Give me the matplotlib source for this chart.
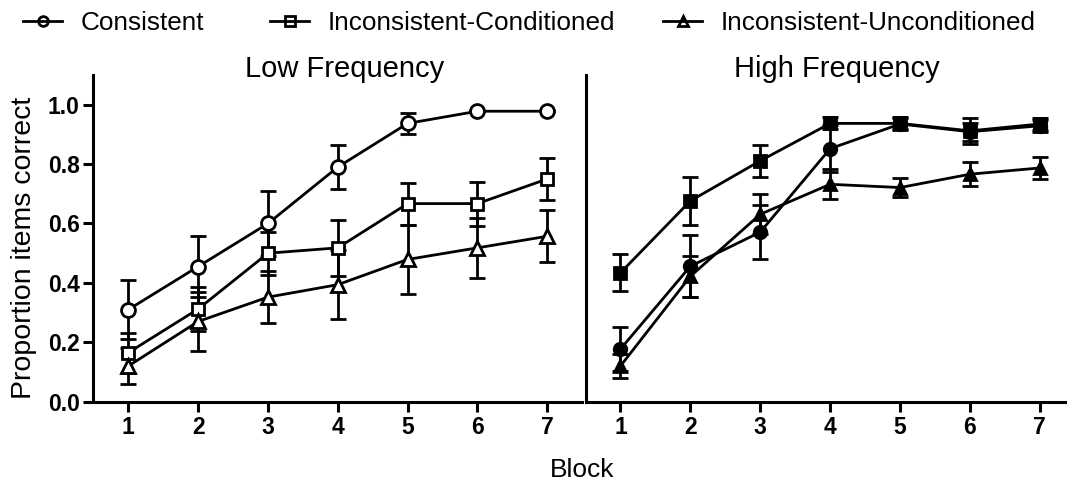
#!/usr/bin/env python3
"""
Proportion of items correct per block, low vs high frequency items,
for consistent / inconsistent-conditioned / inconsistent-unconditioned.
"""
import matplotlib
matplotlib.use('Agg')
import matplotlib.pyplot as plt
from matplotlib.lines import Line2D

plt.rcParams['font.family'] = ['Liberation Sans', 'DejaVu Sans']

# Data (mean, SEM)
blocks = [1, 2, 3, 4, 5, 6, 7]

low_cons = [0.31, 0.455, 0.60, 0.79, 0.937, 0.978, 0.978]
low_cons_err = [0.10, 0.104, 0.11, 0.075, 0.034, 0.0, 0.0]
low_cond = [0.165, 0.312, 0.50, 0.518, 0.667, 0.667, 0.75]
low_cond_err = [0.067, 0.073, 0.072, 0.095, 0.071, 0.074, 0.07]
low_unc = [0.12, 0.27, 0.352, 0.394, 0.479, 0.518, 0.557]
low_unc_err = [0.06, 0.10, 0.088, 0.116, 0.115, 0.10, 0.088]

high_cons = [0.177, 0.456, 0.571, 0.852, 0.935, 0.909, 0.929]
high_cons_err = [0.075, 0.104, 0.09, 0.08, 0.02, 0.03, 0.02]
high_cond = [0.434, 0.676, 0.811, 0.937, 0.937, 0.912, 0.935]
high_cond_err = [0.062, 0.08, 0.054, 0.02, 0.02, 0.043, 0.02]
high_unc = [0.12, 0.422, 0.631, 0.732, 0.721, 0.766, 0.787]
high_unc_err = [0.041, 0.07, 0.067, 0.05, 0.033, 0.04, 0.038]

labels = ['Consistent', 'Inconsistent-Conditioned', 'Inconsistent-Unconditioned']
markers = ['o', 's', '^']
msizes = [10, 9, 10]

fig = plt.figure(figsize=(10.67, 4.87), dpi=100)
ax1 = fig.add_axes([93.4 / 1067, 0.1752, 488.8 / 1067, 0.6708])
ax2 = fig.add_axes([585.5 / 1067, 0.1752, 489.3 / 1067, 0.6708])


def draw_series(ax, means, errs, marker, ms, filled):
    ax.errorbar(blocks, means, yerr=errs, color='black', lw=2,
                marker=marker, ms=ms, mew=2,
                mfc='black' if filled else 'white', mec='black',
                elinewidth=2, capsize=5.5, capthick=2.2, zorder=3)


low = [(low_cons, low_cons_err), (low_cond, low_cond_err), (low_unc, low_unc_err)]
high = [(high_cons, high_cons_err), (high_cond, high_cond_err), (high_unc, high_unc_err)]

for (m, e), mk, ms in zip(low, markers, msizes):
    draw_series(ax1, m, e, mk, ms, False)
for (m, e), mk, ms in zip(high, markers, msizes):
    draw_series(ax2, m, e, mk, ms - 1, True)

for ax in (ax1, ax2):
    ax.set_xlim(0.5, 7.5)
    ax.set_ylim(0, 1.1)
    ax.spines['top'].set_visible(False)
    ax.spines['right'].set_visible(False)
    ax.spines['left'].set_linewidth(2.2)
    ax.spines['bottom'].set_linewidth(2.2)
    ax.set_xticks(blocks)
    ax.tick_params(axis='both', direction='out', length=7, width=2.2,
                   labelsize=16.5, pad=3)
    for t in ax.get_xticklabels():
        t.set_fontweight('bold')

ax1.set_yticks([0.0, 0.2, 0.4, 0.6, 0.8, 1.0])
ax1.set_yticklabels(['0.0', '0.2', '0.4', '0.6', '0.8', '1.0'], fontweight='bold')
ax2.set_yticks([])

# panel titles sit with their baseline on the top of the axes
for ax, title in ((ax1, 'Low Frequency'), (ax2, 'High Frequency')):
    ax.text(0.513, 0.995, title, transform=ax.transAxes, fontsize=21,
            ha='center', va='baseline')

fig.text(24 / 1067, 1 - 248 / 487, 'Proportion items correct', rotation=90,
         fontsize=20.5, ha='center', va='center')
fig.text(582 / 1067, 1 - 470 / 487, 'Block', fontsize=19, ha='center', va='center')

# legend, one entry at a time so the spacing follows the original
legend_x = [23, 270, 663]
for lab, mk, x in zip(labels, markers, legend_x):
    h = Line2D([], [], color='black', lw=2, marker=mk, ms=7, mew=2, mfc='none')
    fig.legend([h], [lab], loc='center left', bbox_to_anchor=(x / 1067, 1 - 23 / 487),
               frameon=False, fontsize=18.8, handlelength=1.5, handletextpad=0.7,
               borderpad=0, borderaxespad=0)

plt.savefig('out.png', dpi=100)
